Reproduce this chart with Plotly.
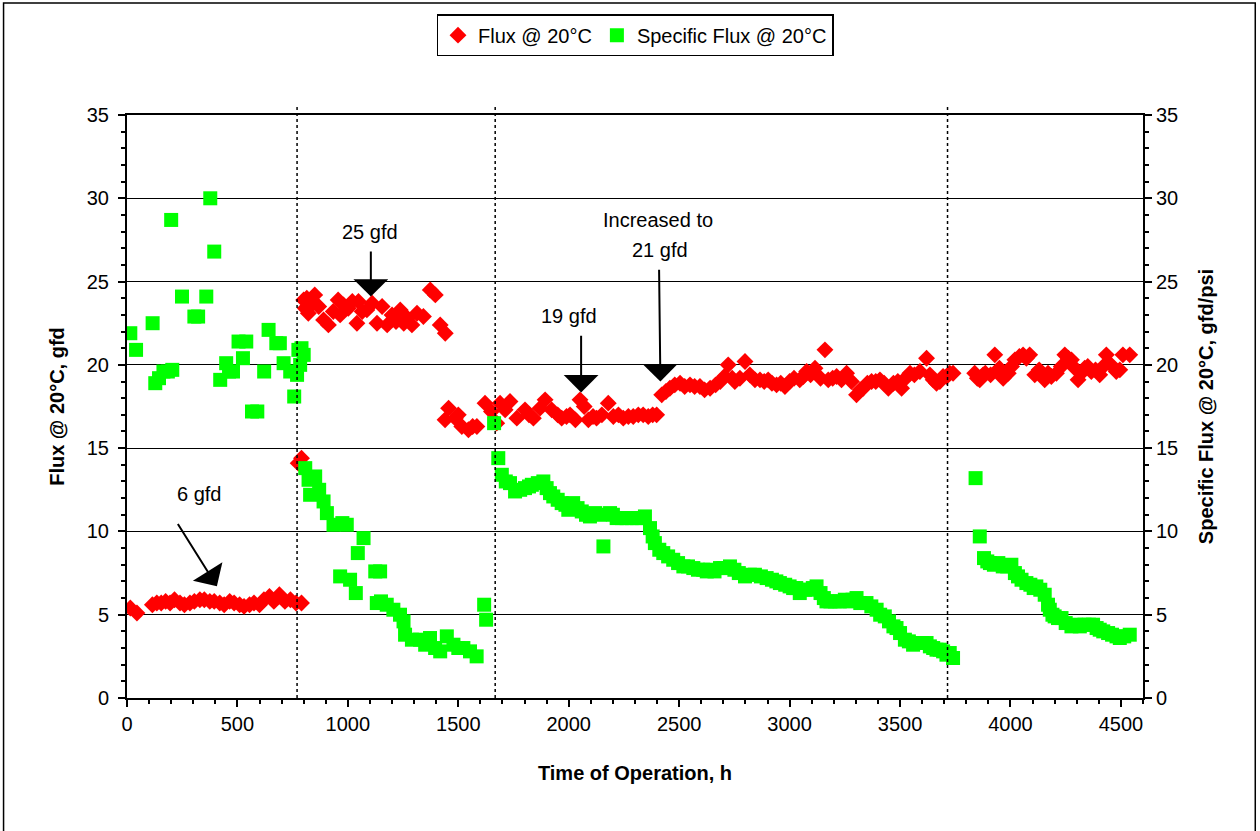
import plotly.graph_objects as go

# ---------------- data ----------------
flux_hours = [15, 45, 115, 135, 155, 175, 195, 215, 240, 260, 285, 305, 330, 350, 375, 395, 420, 440, 465, 485,
              510, 530, 555, 575, 600, 620, 645, 665, 690, 715, 740, 765, 790,
              775, 790,
              800, 807, 814, 821, 835, 850, 868, 890, 912, 934, 956, 965, 980, 1002, 1020, 1041, 1048, 1065, 1086,
              1110, 1132, 1155, 1178, 1200, 1218, 1237, 1253, 1270, 1290, 1313, 1342, 1373, 1396, 1418, 1441,
              1440, 1456, 1486, 1500, 1516, 1546, 1565, 1584, 1621, 1650, 1674, 1689, 1712, 1734, 1765, 1802, 1820,
              1840, 1870, 1893, 1923, 1950, 1968, 1990, 2006, 2030, 2051, 2070, 2089, 2110, 2126, 2150, 2179, 2202,
              2225, 2247, 2270, 2292, 2315, 2337, 2360, 2380, 2398,
              2421, 2440, 2458, 2480, 2504, 2525, 2549, 2570, 2594, 2615, 2640, 2665, 2686, 2705, 2722, 2740, 2752,
              2775, 2798, 2820, 2843, 2866, 2885, 2903, 2920, 2941, 2960, 2979, 3000, 3020, 3046, 3062, 3077, 3095,
              3115, 3140, 3160, 3175, 3195, 3213, 3235, 3258, 3280, 3303, 3320, 3333, 3352, 3371, 3390, 3409, 3428,
              3447, 3470, 3490, 3507, 3525, 3545, 3565, 3590, 3620, 3635, 3650, 3665, 3680, 3695, 3711, 3725, 3740,
              3838, 3850, 3861, 3876, 3886, 3910, 3929, 3950, 3967, 3990, 4005, 4020, 4040, 4057, 4072, 4087, 4110,
              4130, 4155, 4170, 4185, 4208, 4230, 4246, 4262, 4276, 4292, 4306, 4320, 4336, 4350, 4366, 4385, 4404,
              4420, 4434, 4455, 4479, 4495, 4509, 4540]
flux_values = [5.4, 5.1, 5.6, 5.7, 5.7, 5.8, 5.7, 5.9, 5.7, 5.6, 5.7, 5.8, 5.9, 5.9, 5.8, 5.8, 5.7, 5.6, 5.8, 5.7,
               5.6, 5.5, 5.6, 5.7, 5.6, 5.9, 6.1, 5.8, 6.2, 5.8, 5.9, 5.7, 5.7,
               14.1, 14.4,
               23.9, 23.4, 24.0, 23.1, 23.6, 24.2, 23.5, 22.7, 22.4, 23.2, 23.9, 23.0, 23.6, 23.4, 23.8, 22.5, 23.8,
               23.2, 23.3, 23.7, 22.5, 23.5, 22.4, 23.0, 22.6, 23.3, 22.5, 22.8, 22.4, 23.1, 22.9, 24.5, 24.2, 22.4,
               21.9,
               16.7, 17.4, 16.8, 17.0, 16.3, 16.1, 16.3, 16.3, 17.7, 17.2, 16.5, 17.7, 17.3, 17.8, 16.8, 17.3, 17.0,
               16.8, 17.4, 17.9, 17.3, 17.0, 16.8, 16.9, 17.0, 16.7, 17.9, 17.5, 16.7, 16.9, 16.8, 17.0, 17.7, 16.9,
               17.0, 16.8, 16.9, 16.9, 17.0, 17.0, 16.9, 17.0, 17.0,
               18.2, 18.4, 18.6, 18.8, 18.9, 18.7, 18.8, 18.7, 18.7, 18.5, 18.6, 18.8, 19.0, 19.3, 20.0, 19.2, 19.0,
               19.2, 20.2, 19.4, 19.1, 19.1, 19.0, 19.1, 18.9, 18.8, 18.9, 18.7, 19.0, 19.2, 19.1, 19.3, 19.6, 19.4,
               19.8, 19.2, 20.9, 19.1, 19.2, 19.3, 19.1, 19.5, 19.0, 18.2, 18.5, 18.6, 18.9, 19.0, 19.0, 19.1, 18.9,
               18.6, 18.9, 19.0, 18.6, 19.2, 19.5, 19.4, 19.6, 20.4, 19.4, 19.1, 18.9, 19.0, 19.3, 19.3, 19.5, 19.5,
               19.5, 19.2, 19.1, 19.4, 19.5, 19.4, 20.6, 19.8, 19.2, 19.5, 19.9, 20.3, 20.5, 20.6, 20.4, 20.6, 19.4,
               19.7, 19.1, 19.5, 19.3, 19.5, 19.9, 20.6, 20.4, 20.3, 19.8, 19.1, 19.5, 19.8, 19.9, 19.6, 19.7, 19.4,
               19.9, 20.6, 20.0, 19.6, 19.7, 20.6, 20.6]

spec_hours = [15, 41, 116, 128, 145, 165, 185, 200, 205, 249, 305, 322, 359, 377, 395, 422, 449, 462, 480, 505,
              525, 540, 566, 590, 621, 641, 676, 692, 709, 739, 757, 770, 776, 784, 790, 800,
              807, 822, 829, 852, 870, 890, 905, 935, 965, 975, 995, 1010, 1036, 1045, 1071, 1124, 1131, 1146,
              1150, 1176, 1206, 1236, 1252, 1259, 1290, 1327, 1350, 1372, 1395, 1418, 1448, 1478, 1500, 1523,
              1553, 1583, 1617, 1626,
              1662, 1681, 1697, 1715, 1734, 1757, 1780, 1802, 1820, 1833, 1860, 1885, 1900, 1915, 1930, 1950, 1968,
              1985, 1998, 2020, 2040, 2059, 2078, 2096, 2120, 2140, 2157, 2187, 2200, 2217, 2240, 2262, 2285, 2308,
              2330, 2345, 2368, 2380, 2390, 2410, 2428, 2450, 2473, 2495, 2519, 2540, 2564, 2585, 2609, 2625, 2640,
              2660, 2685, 2700, 2730, 2750, 2770, 2798, 2820, 2843, 2870, 2896, 2920, 2940, 2956, 2980, 3000, 3016,
              3030, 3046, 3070, 3090, 3105, 3122, 3140, 3155, 3167, 3185, 3205, 3227, 3250, 3270, 3285, 3303, 3320,
              3348, 3370, 3394, 3410, 3431, 3450, 3470, 3484, 3500, 3522, 3540, 3559, 3580, 3600, 3620, 3635, 3650,
              3665, 3680, 3695, 3710, 3725, 3740,
              3842, 3861, 3880, 3895, 3907, 3925, 3945, 3965, 3985, 4004, 4020, 4034, 4050, 4072, 4090, 4105, 4117,
              4135, 4155, 4170, 4178, 4190, 4200, 4215, 4231, 4250, 4276, 4295, 4314, 4335, 4355, 4374, 4390, 4404,
              4420, 4442, 4460, 4480, 4495, 4515, 4540]
spec_values = [21.9, 20.9, 22.5, 18.9, 19.2, 19.6, 19.6, 28.7, 19.7, 24.1, 22.9, 22.9, 24.1, 30.0, 26.8, 19.1, 20.1,
               19.6, 19.6, 21.4, 20.4, 21.4, 17.2, 17.2, 19.6, 22.1, 21.3, 21.3, 20.1, 19.6, 18.1, 19.4, 20.9, 20.0,
               21.0, 20.6,
               13.8, 13.1, 12.2, 13.3, 12.5, 11.8, 11.1, 10.4, 7.3, 10.5, 10.4, 7.1, 6.3, 8.7, 9.6, 7.6, 5.7, 7.6,
               5.8, 5.6, 5.3, 5.0, 4.6, 3.8, 3.5, 3.5, 3.2, 3.6, 3.0, 2.8, 3.7, 3.2, 3.0, 3.0,
               2.8, 2.5, 5.6, 4.7,
               16.5, 14.4, 13.4, 13.0, 12.9, 12.4, 12.5, 12.6, 12.7, 12.8, 12.9, 13.0, 12.6, 12.3, 12.1, 11.9, 11.7,
               11.6, 11.3, 11.7, 11.4, 11.2, 11.0, 10.9, 11.1, 11.0, 9.1, 11.1, 11.0, 10.8, 10.8, 10.8, 10.8, 10.8,
               10.8, 10.9, 10.2, 9.7, 9.3, 8.9, 8.7, 8.5, 8.3, 8.1, 7.9, 7.9, 7.8, 7.7, 7.7, 7.6, 7.7,
               7.6, 7.8, 7.8, 7.9, 7.7, 7.5, 7.3, 7.4, 7.4, 7.3, 7.2, 7.1, 7.0, 6.9, 6.8, 6.7, 6.6,
               6.6, 6.3, 6.5, 6.5, 6.6, 6.7, 6.3, 6.0, 5.8, 5.8, 5.8, 5.8, 5.9, 5.8, 5.9, 6.0, 5.7,
               5.7, 5.5, 5.3, 5.0, 4.9, 4.6, 4.3, 4.2, 3.9, 3.5, 3.4, 3.2, 3.3, 3.3, 3.3, 3.1, 3.0,
               2.9, 2.9, 2.8, 2.6, 2.7, 2.4,
               13.2, 9.7, 8.4, 8.2, 8.1, 8.0, 8.1, 7.9, 7.9, 8.0, 7.5, 7.3, 7.1, 6.9, 6.8, 6.6, 6.7,
               6.5, 6.2, 5.6, 5.3, 5.0, 4.9, 4.8, 4.8, 4.5, 4.3, 4.4, 4.3, 4.4, 4.4, 4.4, 4.2, 4.1,
               4.0, 3.9, 3.8, 3.7, 3.6, 3.7, 3.8]

x_ticks = [0, 500, 1000, 1500, 2000, 2500, 3000, 3500, 4000, 4500]
y_ticks = [0, 5, 10, 15, 20, 25, 30, 35]
event_hours = [770, 1667, 3715]

FONT = "Liberation Sans, Arial, sans-serif"
FS = 20

fig = go.Figure()
fig.add_trace(go.Scatter(
    x=flux_hours, y=flux_values, mode="markers", name="Flux @ 20°C",
    marker=dict(symbol="diamond", size=13, color="#FF0000", line=dict(width=0)),
    yaxis="y"))
fig.add_trace(go.Scatter(
    x=spec_hours, y=spec_values, mode="markers", name="Specific Flux @ 20°C",
    marker=dict(symbol="square", size=14, color="#00FF00", line=dict(width=0)),
    yaxis="y2"))

# vertical dotted event lines
for h in event_hours:
    fig.add_shape(type="line", xref="x", yref="paper", x0=h, x1=h, y0=0, y1=1.014,
                  line=dict(color="black", width=1.5, dash="dot"), layer="above")

# outer chart border
fig.add_shape(type="rect", xref="paper", yref="paper", x0=-0.1215, x1=1.1105, y0=-0.3, y1=1.192,
              line=dict(color="black", width=1.5), layer="above")

# annotation texts
texts = [("6 gfd", 324, 12.24), ("25 gfd", 1101, 28.0), ("19 gfd", 2001, 22.94),
         ("Increased to", 2405, 28.7), ("21 gfd", 2413, 26.9)]
for t, x, y in texts:
    fig.add_annotation(text=t, x=x, y=y, xref="x", yref="y", showarrow=False,
                       font=dict(family=FONT, size=FS, color="black"))

# arrows (tip x,y ; tail ax,ay)
arrows = [(407, 6.71, 226, 10.54), (1104, 24.1, 1104, 26.9), (2056, 18.34, 2056, 21.84),
          (2415, 19.0, 2409, 25.8)]
for x, y, ax, ay in arrows:
    fig.add_annotation(x=x, y=y, ax=ax, ay=ay, xref="x", yref="y", axref="x", ayref="y",
                       text="", showarrow=True, arrowhead=1, arrowwidth=2, arrowsize=2.9,
                       arrowcolor="black", standoff=0)

axis_common = dict(
    ticks="outside", ticklen=7, tickwidth=1.5, tickcolor="black",
    showline=True, linecolor="black", linewidth=2, zeroline=False,
    tickfont=dict(family=FONT, size=FS, color="black"),
)

fig.update_layout(
    width=1260, height=831,
    margin=dict(l=127, r=117, t=115, b=133, autoexpand=False),
    plot_bgcolor="white", paper_bgcolor="white",
    font=dict(family=FONT, size=FS, color="black"),
    showlegend=True,
    legend=dict(orientation="h", x=0.5, xanchor="center", y=1.173, yanchor="top",
                bordercolor="black", borderwidth=1.5, bgcolor="white",
                font=dict(family=FONT, size=FS, color="black"), itemwidth=30),
    xaxis=dict(range=[0, 4600], tickvals=x_ticks, showgrid=False, mirror=True,
               minor=dict(dtick=100, tick0=0, ticks="outside", ticklen=4, tickwidth=1.5, tickcolor="black"),
               title=dict(text="<b>Time of Operation, h</b>", standoff=32,
                          font=dict(family=FONT, size=FS, color="black")),
               **axis_common),
    yaxis=dict(range=[0, 35], tickvals=y_ticks, showgrid=True, gridcolor="black", gridwidth=1,
               ticklabelstandoff=5,
               minor=dict(dtick=1, tick0=0, ticks="outside", ticklen=4, tickwidth=1.5, tickcolor="black", showgrid=False),
               title=dict(text="<b>Flux @ 20°C, gfd</b>", standoff=17,
                          font=dict(family=FONT, size=FS, color="black")),
               **axis_common),
    yaxis2=dict(range=[0, 35], tickvals=y_ticks, overlaying="y", side="right", showgrid=False,
                minor=dict(dtick=1, tick0=0, ticks="outside", ticklen=4, tickwidth=1.5, tickcolor="black", showgrid=False),
                title=dict(text="<b>Specific Flux @ 20°C, gfd/psi</b>", standoff=22,
                           font=dict(family=FONT, size=FS, color="black")),
                **axis_common),
)

fig.write_html("out.html")
